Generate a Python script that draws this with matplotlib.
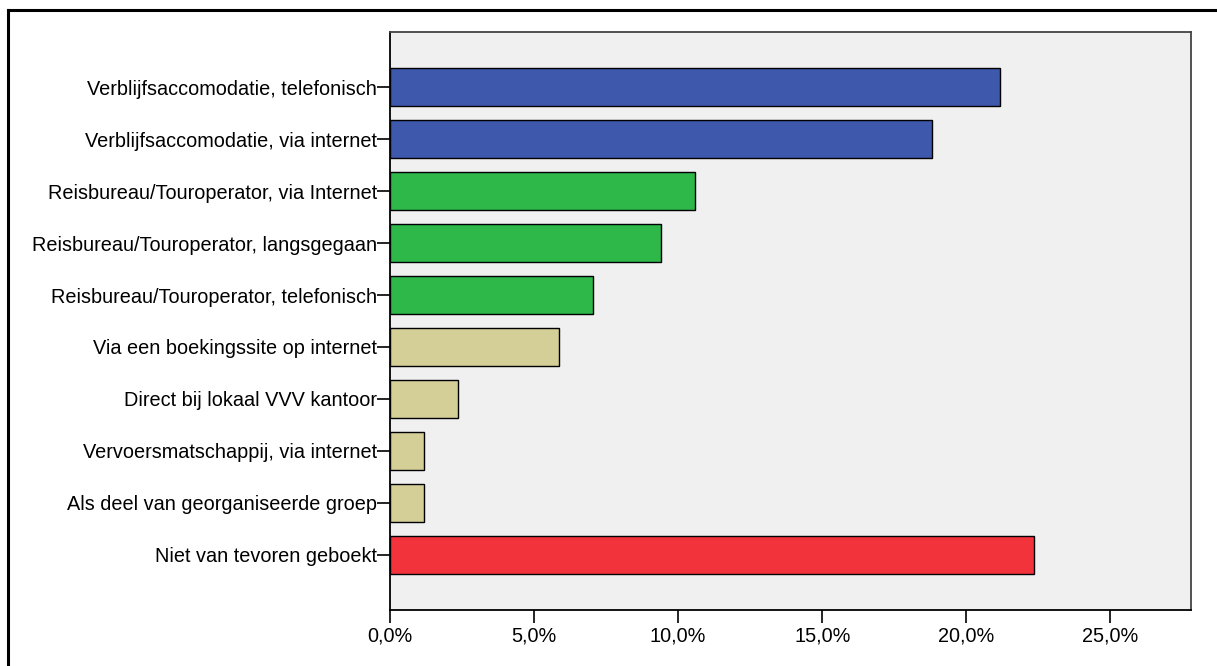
import matplotlib.pyplot as plt
from matplotlib.lines import Line2D
from matplotlib.ticker import FuncFormatter

plt.rcParams['font.family'] = ['Liberation Sans', 'DejaVu Sans']

categories = [
    "Verblijfsaccomodatie, telefonisch",
    "Verblijfsaccomodatie, via internet",
    "Reisbureau/Touroperator, via Internet",
    "Reisbureau/Touroperator, langsgegaan",
    "Reisbureau/Touroperator, telefonisch",
    "Via een boekingssite op internet",
    "Direct bij lokaal VVV kantoor",
    "Vervoersmatschappij, via internet",
    "Als deel van georganiseerde groep",
    "Niet van tevoren geboekt",
]
counts = [18, 16, 9, 8, 6, 5, 2, 1, 1, 19]
total = 85
percentages = [c / total * 100 for c in counts]
colors = ["#3E58AC", "#3E58AC", "#2EB84A", "#2EB84A", "#2EB84A",
          "#D4CE97", "#D4CE97", "#D4CE97", "#D4CE97", "#F2333C"]
xticks = [0, 5, 10, 15, 20, 25]

fig = plt.figure(figsize=(12.17, 6.66), dpi=100)
ax = fig.add_axes([390 / 1217, 1 - 610 / 666, (1191 - 390) / 1217, (610 - 32) / 666])
ax.set_facecolor("#F0F0F0")

y = list(range(len(categories)))
ax.barh(y, percentages, height=0.73, color=colors, edgecolor="black", linewidth=1)

ax.set_ylim(len(categories) - 1 + 1.06, -1.06)
ax.set_xlim(0, 27.8)
ax.set_yticks(y)
ax.set_yticklabels(categories, fontsize=14.3)
ax.set_xticks(xticks)
ax.xaxis.set_major_formatter(FuncFormatter(lambda v, p: f"{v:.1f}%".replace(".", ",")))
ax.tick_params(axis="x", labelsize=14.3, length=9, width=1.2, direction="out", pad=3)
ax.tick_params(axis="y", length=9.4, width=1.2, direction="out", pad=0)

for side in ["left", "bottom"]:
    ax.spines[side].set_color("black")
    ax.spines[side].set_linewidth(1.3)
for side in ["top", "right"]:
    ax.spines[side].set_color("#444444")
    ax.spines[side].set_linewidth(1.3)

# outer frame (cut off at right and bottom)
fig.add_artist(Line2D([8 / 1217, 8 / 1217], [0, 1 - 10 / 666], color="black", lw=2.2,
                      transform=fig.transFigure))
fig.add_artist(Line2D([8 / 1217, 1], [1 - 10 / 666, 1 - 10 / 666], color="black", lw=2.2,
                      transform=fig.transFigure))

fig.savefig("out.png", dpi=100)
